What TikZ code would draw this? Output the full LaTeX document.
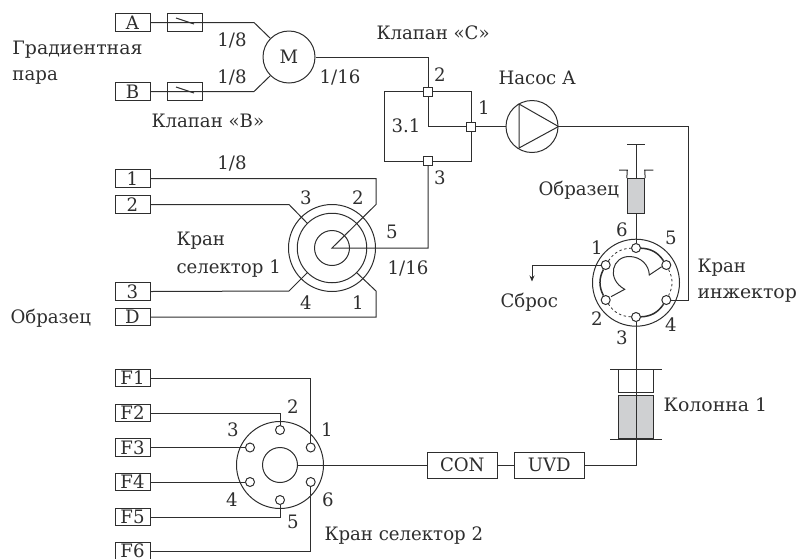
\documentclass[tikz,border=0pt]{standalone}
\usepackage{fontspec}
\setmainfont[FakeStretch=0.98]{DejaVu Serif}
\newfontfamily\widefont[FakeStretch=1.02]{DejaVu Serif}
\usetikzlibrary{arrows.meta}
\definecolor{ink}{HTML}{2E2E2E}
\definecolor{fillgray}{HTML}{CFD0D2}
\tikzset{
  x=1pt,y=-1pt,
  every path/.style={draw=ink,line width=1pt},
  lab/.style={draw=none,inner sep=0pt,text=ink,font=\fontsize{18.5}{18.5}\selectfont,anchor=center},
  labl/.style={lab,anchor=west},
  labw/.style={labl,font=\fontsize{18.5}{18.5}\selectfont\widefont},
  pbox/.style={draw=ink,line width=1pt,minimum width=35pt,minimum height=17.5pt,inner sep=0pt,text=ink,font=\fontsize{18.5}{18.5}\selectfont,fill=white},
  devbox/.style={pbox,minimum width=70pt,minimum height=26pt},
  ring/.style={circle,draw=ink,line width=1pt,inner sep=0pt,minimum size=#1},
  port/.style={circle,draw=ink,line width=1pt,fill=white,inner sep=0pt,minimum size=9pt},
  jct/.style={rectangle,draw=ink,line width=1pt,fill=white,inner sep=0pt,minimum size=9pt},
  thickarc/.style={line width=1.5pt},
  dasharc/.style={line width=0.8pt,dash pattern=on 2.5pt off 2.5pt},
}
\begin{document}
\begin{tikzpicture}
\useasboundingbox[draw=none] (0,0) rectangle (798,558);
% gradient pair
\node[pbox] (A) at (132.5,22.5) {A};
\node[pbox] (B) at (132.5,91.5) {B};
\node[pbox] (VA) at (184.5,22.5) {};
\node[pbox] (VB) at (184.5,91.5) {};
\node[ring=52pt,font=\fontsize{18.5}{18.5}\selectfont,text=ink] (M) at (289,57) {M};
\coordinate (ka) at (254,22.5);
\coordinate (kb) at (254,91.5);
\draw (A.east) -- (VA.east) -- (ka) -- (M.135);
\draw (B.east) -- (VB.east) -- (kb) -- (M.225);
\draw (176,18) -- (194,24);
\draw (176,87) -- (194,93);
% valve 3.1
\node[draw=ink,line width=1pt,minimum width=87pt,minimum height=69.5pt,inner sep=0pt] (V) at (427.5,126.5) {};
\node[jct] (v2) at (428,92) {};
\node[jct] (v1) at (471,126.5) {};
\node[jct] (v3) at (428,161) {};
\draw (v2.south) |- (v1.west);
\draw (M.east) -| (v2.north);
% pump
\node[ring=52pt] (P) at (532,126.5) {};
\coordinate (t1) at (519,104);
\coordinate (t2) at (519,148);
\draw (t1) -- (t2) -- (P.east) -- cycle;
\draw (v1.east) -- (P.west);
% selector 1
\node[pbox] (s1) at (132.5,178.5) {1};
\node[pbox] (s2) at (132.5,204.5) {2};
\node[pbox] (s3) at (132.5,291.5) {3};
\node[pbox] (sD) at (132.5,317) {D};
\node[ring=87pt] (C1) at (332,248) {};
\node[ring=69.5pt] (C2) at (332,248) {};
\node[ring=35pt] (C3) at (332,248) {};
\coordinate (c) at (332,248);
\coordinate (k2) at (376,204.5);
\coordinate (k3) at (289,204.5);
\coordinate (k4) at (289,291);
\coordinate (k1) at (376,291);
\draw (s1.east) -| (k2) -- (c) -- (428,248) -- (v3.south);
\draw (s2.east) -- (k3) -- (C2.135);
\draw (s3.east) -- (k4) -- (C2.225);
\draw (sD.east) -| (k1) -- (C2.315);
% injector
\node[ring=87pt] (I) at (636,282.7) {};
\node[port] (i6) at (636,248) {};
\node[port] (i1) at (605.7,265) {};
\node[port] (i2) at (605.7,300) {};
\node[port] (i3) at (636,317) {};
\node[port] (i4) at (666.3,300) {};
\node[port] (i5) at (666.3,265) {};
\draw[thickarc] (i6) to[bend left=27] (i5);
\draw[thickarc] (i4) to[bend left=27] (i3);
\draw[thickarc] (i2) to[bend left=27] (i1);
\draw[dasharc] (i5) to[bend left=27] (i4);
\draw[dasharc] (i3) to[bend left=27] (i2);
\draw[dasharc] (i1) to[bend left=27] (i6);
\coordinate (r1) at (611,296.7);
\coordinate (r2) at (624.7,289.3);
\coordinate (r3) at (649.3,275);
\coordinate (r4) at (661.7,266.7);
\draw (r1) -- (r2) .. controls (606,279) and (612,256) .. (630,256.5) .. controls (641,257) and (649,265) .. (r3) -- (r4);
\coordinate (pk) at (688,300);
\draw (P.east) -- (688,126.5) -- (pk) -- (i4.east);
\coordinate (drain) at (532,265);
\coordinate (draine) at (532,281.5);
\draw[-{Stealth[length=6pt,width=5pt]}] (i1.west) -- (drain) -- (draine);
% sample syringe
\node[draw=ink,line width=1pt,fill=fillgray,minimum width=17.4pt,minimum height=34.6pt,inner sep=0pt] (S) at (636,196) {};
\coordinate (pl) at (636,144);
\draw (627.3,144) -- (644.7,144);
\draw (pl) -- (S.north);
\draw (S.south) -- (i6.north);
\draw (619,170) -- (627.3,170) -- (S.north west);
\draw (653.3,170) -- (644.7,170) -- (S.north east);
% column
\node[draw=ink,line width=1pt,fill=fillgray,minimum width=34.6pt,minimum height=43.3pt,inner sep=0pt] (K) at (636,417.3) {};
\node[draw=ink,line width=1pt,minimum width=34.6pt,minimum height=23pt,inner sep=0pt] (KU) at (636,381) {};
\draw (610,369.5) -- (661.7,369.5);
\draw (610,439) -- (661.7,439);
\draw (i3.south) -- (K.south);
% detectors
\node[devbox] (CON) at (462.3,465) {CON};
\node[devbox] (UVD) at (549.2,465) {UVD};
\draw (CON.east) -- (UVD.west);
\draw (UVD.east) -| (K.south);
% selector 2
\node[ring=87pt] (D1) at (280,465) {};
\node[ring=35pt] (D2) at (280,465) {};
\node[port] (d1) at (310.7,447.5) {};
\node[port] (d2) at (280,430) {};
\node[port] (d3) at (250,447.5) {};
\node[port] (d4) at (250,482) {};
\node[port] (d5) at (280,500) {};
\node[port] (d6) at (310.7,482) {};
\node[pbox] (F1) at (132.5,378) {F1};
\node[pbox] (F2) at (132.5,413) {F2};
\node[pbox] (F3) at (132.5,447.5) {F3};
\node[pbox] (F4) at (132.5,482) {F4};
\node[pbox] (F5) at (132.5,517) {F5};
\node[pbox] (F6) at (132.5,551.2) {F6};
\draw (F1.east) -| (d1.north);
\draw (F2.east) -| (d2.north);
\draw (F3.east) -- (d3.west);
\draw (F4.east) -- (d4.west);
\draw (F5.east) -| (d5.south);
\draw (F6.east) -| (d6.south);
\draw (D2.east) -- (CON.west);
% labels
\node[labw] (l01) at (12,50) {Градиентная};
\node[labl] (l02) at (12,77) {пара};
\node[labl] (l03) at (376,33) {Клапан «С»};
\node[labl] (l04) at (151,121) {Клапан «В»};
\node[labl] (l05) at (498,78) {Насос А};
\node[labl] (l06) at (538,190) {Образец};
\node[labl] (l07) at (176,241) {Кран};
\node[labl] (l08) at (176,269) {селектор 1};
\node[labl] (l09) at (697,268) {Кран};
\node[labw] (l10) at (697,295) {инжектор};
\node[labl] (l11) at (500,302) {Сброс};
\node[labl] (l12) at (10,318) {Образец};
\node[labw] (l13) at (663,405) {Колонна 1};
\node[labl] (l14) at (324,536) {Кран селектор 2};
\node[lab] (n01) at (232,40) {1/8};
\node[lab] (n02) at (232,77) {1/8};
\node[lab] (n03) at (340,77) {1/16};
\node[lab] (n04) at (232,163) {1/8};
\node[lab] (n05) at (406,126) {3.1};
\node[lab] (n06) at (440,75) {2};
\node[lab] (n07) at (484,108) {1};
\node[lab] (n08) at (440,178) {3};
\node[lab] (n09) at (306,198) {3};
\node[lab] (n10) at (358,198) {2};
\node[lab] (n11) at (392,232) {5};
\node[lab] (n12) at (408,268) {1/16};
\node[lab] (n13) at (306,303) {4};
\node[lab] (n14) at (358,303) {1};
\node[lab] (n15) at (622,230) {6};
\node[lab] (n16) at (671,238) {5};
\node[lab] (n17) at (597,248) {1};
\node[lab] (n18) at (597,319) {2};
\node[lab] (n19) at (622,338) {3};
\node[lab] (n20) at (671,325) {4};
\node[lab] (n21) at (293,407) {2};
\node[lab] (n22) at (233,430) {3};
\node[lab] (n23) at (327,430) {1};
\node[lab] (n24) at (232,500) {4};
\node[lab] (n25) at (293,522) {5};
\node[lab] (n26) at (328,500) {6};
\end{tikzpicture}
\end{document}
